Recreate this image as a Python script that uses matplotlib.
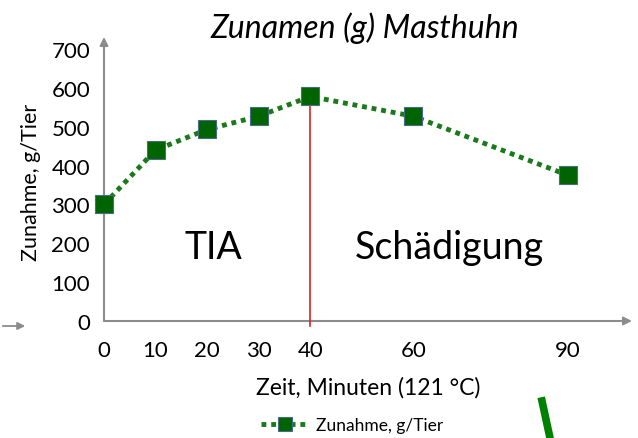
import matplotlib
matplotlib.use("Agg")
import matplotlib.pyplot as plt

plt.rcParams['font.family'] = ['Lato', 'DejaVu Sans']

# Daten
zeit = [0, 10, 20, 30, 40, 60, 90]
zunahme = [300, 440, 493, 527, 578, 527, 375]
xticks = [0, 10, 20, 30, 40, 60, 90]
yticks = [0, 100, 200, 300, 400, 500, 600, 700]

grau = '#8c8c8c'
gruen = '#006400'

fig = plt.figure(figsize=(6.38, 4.39), dpi=100)
ax = fig.add_axes([104/638, 1-322/439, 528/638, 284/439])
ax.set_xlim(0, 102.4)
ax.set_ylim(0, 731)

ax.plot(zeit, zunahme, linestyle=(0, (1, 1)), color='#1a7a1a', linewidth=3.5,
        marker='s', markersize=13, markerfacecolor=gruen,
        markeredgecolor='#4a6a8a', markeredgewidth=0.8,
        label='Zunahme, g/Tier', clip_on=False, zorder=5)

# rote Trennlinie bei 40 min
ax.plot([40, 40], [-13, 578], color='#e02020', linewidth=1.2, clip_on=False, zorder=4)

for s in ax.spines.values():
    s.set_visible(False)

# Achsen mit Pfeilen
ax.annotate('', xy=(1.0, 0), xytext=(0, 0), xycoords='axes fraction',
            arrowprops=dict(arrowstyle='-|>', color=grau, lw=1.5,
                            mutation_scale=12, shrinkA=0, shrinkB=0))
ax.annotate('', xy=(0, 1.0), xytext=(0, 0), xycoords='axes fraction',
            arrowprops=dict(arrowstyle='-|>', color=grau, lw=1.5,
                            mutation_scale=12, shrinkA=0, shrinkB=0))
# Pfeil links aussen
fig.patches.append(matplotlib.patches.FancyArrowPatch(
    (0/638, 1-327/439), (28/638, 1-327/439), transform=fig.transFigure,
    arrowstyle='-|>', color=grau, lw=1.3, mutation_scale=11))

ax.set_xticks(xticks)
ax.set_yticks(yticks)
ax.tick_params(length=0, labelsize=16, colors='black')
ax.tick_params(axis='x', pad=14)
ax.tick_params(axis='y', pad=10)

ax.set_xlabel('Zeit, Minuten (121 °C)', fontsize=16.5, labelpad=11)
ax.set_ylabel('Zunahme, g/Tier', fontsize=15.5)
ax.yaxis.set_label_coords(-0.12, 0.49)

fig.text(365/638, 1-28/439, 'Zunamen (g) Masthuhn', fontsize=23, style='italic',
         ha='center', va='center')

fig.text(213/638, 1-248/439, 'TIA', fontsize=27, ha='center', va='center')
fig.text(449/638, 1-248/439, 'Schädigung', fontsize=27, ha='center', va='center')

ax.legend(loc='center', bbox_to_anchor=(352/638, 1-426/439),
          bbox_transform=fig.transFigure, frameon=False, fontsize=12.5,
          markerscale=0.75, handlelength=2.8, handletextpad=0.4)

# gruener Strich unten rechts
fig.add_artist(matplotlib.lines.Line2D([542/638, 550/638], [1-402/439, 1-439/439],
                                       color='#008000', linewidth=5.5))

fig.savefig('out.png', dpi=100)
